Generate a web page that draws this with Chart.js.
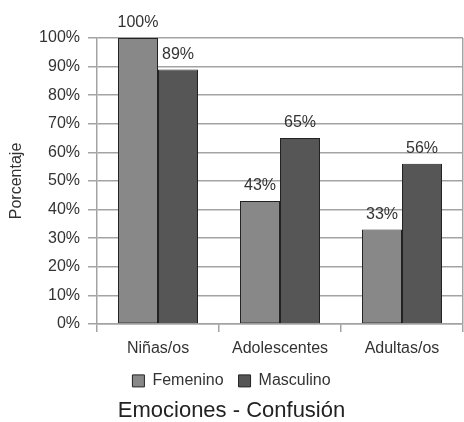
<!DOCTYPE html>
<html>
<head>
<meta charset="utf-8">
<script src="https://cdn.jsdelivr.net/npm/chart.js@4/dist/chart.umd.min.js"></script>
<style>
  html, body { margin: 0; padding: 0; background: #ffffff; }
  #wrap { width: 464px; height: 422px; position: relative; }
</style>
</head>
<body>
<div id="wrap"><canvas id="c" width="464" height="422"></canvas></div>
<script>
const categories = ["Niñas/os", "Adolescentes", "Adultas/os"];
const femenino = [100, 43, 33];
const masculino = [89, 65, 56];
const seriesNames = ["Femenino", "Masculino"];
const yTicks = [0, 10, 20, 30, 40, 50, 60, 70, 80, 90, 100];

const FONT = "'Liberation Sans', Arial, sans-serif";
const GRID = '#a3a3a3';
const TEXT = '#333333';

const valueLabels = {
  id: 'valueLabels',
  afterDatasetsDraw(chart) {
    const ctx = chart.ctx;
    ctx.save();
    ctx.font = '16px ' + FONT;
    ctx.fillStyle = TEXT;
    ctx.textAlign = 'center';
    ctx.textBaseline = 'bottom';
    chart.data.datasets.forEach((ds, di) => {
      const meta = chart.getDatasetMeta(di);
      meta.data.forEach((bar, i) => {
        ctx.fillText(ds.data[i] + '%', bar.x, bar.y - 7);
      });
    });
    ctx.restore();
  }
};

new Chart(document.getElementById('c'), {
  type: 'bar',
  data: {
    labels: categories,
    datasets: [
      { label: seriesNames[0], data: femenino, backgroundColor: '#888888', borderColor: '#222222', borderWidth: 1, borderSkipped: false },
      { label: seriesNames[1], data: masculino, backgroundColor: '#565656', borderColor: '#222222', borderWidth: 1, borderSkipped: false }
    ]
  },
  options: {
    responsive: false,
    animation: false,
    devicePixelRatio: 1,
    layout: { padding: { top: 38, right: 1, bottom: 0, left: 0 } },
    datasets: { bar: { categoryPercentage: 0.656, barPercentage: 1.0 } },
    plugins: {
      tooltip: { enabled: false },
      legend: {
        position: 'bottom',
        labels: {
          font: { family: FONT, size: 16 },
          color: TEXT,
          boxWidth: 12,
          boxHeight: 12,
          padding: 15
        }
      },
      title: {
        display: true,
        text: 'Emociones - Confusión',
        position: 'bottom',
        color: '#222222',
        font: { family: FONT, size: 22, weight: 'normal', lineHeight: 1.05 },
        padding: { top: 0, bottom: 0 }
      }
    },
    scales: {
      x: {
        offset: true,
        grid: {
          offset: true,
          drawOnChartArea: true,
          drawTicks: true,
          tickLength: 8,
          color: (c) => (c.type === 'scale' ? GRID : 'rgba(0,0,0,0)'),
          tickColor: GRID,
          lineWidth: 1.5
        },
        border: { display: true, color: GRID, width: 1.5 },
        ticks: { font: { family: FONT, size: 16 }, color: TEXT, padding: 7 },
        afterFit(scale) { scale.height = 34; }
      },
      y: {
        min: 0,
        max: 100,
        afterBuildTicks(scale) { scale.ticks = yTicks.map(v => ({ value: v })); },
        grid: { color: GRID, tickColor: GRID, tickLength: 9, lineWidth: 1.5 },
        border: { display: true, color: GRID, width: 1.5 },
        ticks: {
          font: { family: FONT, size: 16 },
          color: TEXT,
          padding: 8,
          callback: (v) => v + '%'
        },
        title: {
          display: true,
          text: 'Porcentaje',
          color: TEXT,
          font: { family: FONT, size: 16 },
          padding: { top: 7, bottom: 0 }
        },
        afterFit(scale) { scale.width = 97; }
      }
    }
  },
  plugins: [valueLabels]
});
</script>
</body>
</html>
